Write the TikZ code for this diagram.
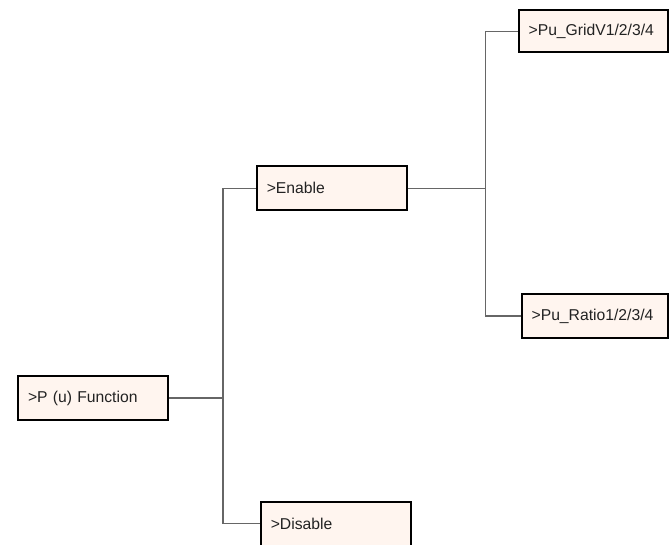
\documentclass[tikz,border=0pt]{standalone}
\usepackage{fontspec}
\setmainfont{Liberation Sans}
\usetikzlibrary{positioning}
\definecolor{cream}{HTML}{FFF5EF}
\definecolor{wire}{HTML}{666666}
\definecolor{ink}{HTML}{222222}
\tikzset{menu/.style={draw=black,fill=cream,line width=1.8pt,minimum height=44pt,text width=130pt,inner xsep=10pt,inner ysep=0pt,align=left,font=\fontsize{15.7}{18}\selectfont,text=ink},link/.style={draw=wire,line width=1.2pt}}

\begin{document}
\begin{tikzpicture}
\useasboundingbox (0,0) rectangle (671pt,-545pt);
\node[menu] (pu) at (93pt,-398pt) {>P (u) Function};
\node[menu,above right=164pt and 87pt of pu] (en) {>Enable};
\node[menu,below right=80pt and 91pt of pu] (dis) {>Disable};
\node[menu,text width=129.5pt,minimum height=42pt,above right=112pt and 110pt of en] (grid) {>Pu\_GridV1/2/3/4};
\node[menu,text width=126.5pt,below right=82pt and 113pt of en] (ratio) {>Pu\_Ratio1/2/3/4};
\coordinate[right=54pt of pu] (j1);
\coordinate[right=78pt of en] (j2);
\draw[link](pu.east)--(j1);\draw[link](j1)|-(en.west);\draw[link](j1)|-(dis.west);
\draw[link](en.east)--(j2);\draw[link](j2)|-(grid.west);\draw[link](j2)|-(ratio.west);
\end{tikzpicture}
\end{document}
